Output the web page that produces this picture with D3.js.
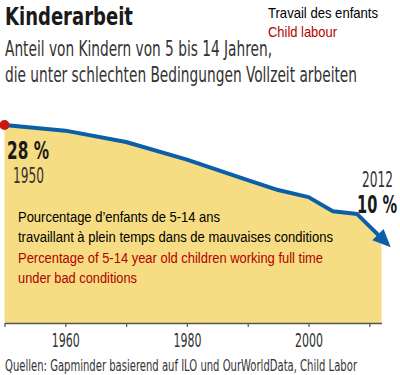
<!DOCTYPE html>
<html><head><meta charset="utf-8">
<script src="https://cdn.jsdelivr.net/npm/d3@7"></script>
<style>
html,body{margin:0;padding:0;background:#fff;}
svg{display:block;}
</style></head>
<body>
<script>
const years = [1950,1960,1970,1980,1990,1995,2000,2004,2008,2012];
const values = [28,27.2,25.6,23.1,20.2,18.8,17.8,15.8,15.4,12];
const tickYears = [1950,1960,1970,1980,1990,2000,2010];
const tickLabels = {1960:"1960",1980:"1980",2000:"2000"};

const W=400,H=375;
const din = "'Liberation Sans Narrow','DejaVu Sans Condensed',sans-serif";
const arial = "'Liberation Sans',Arial,sans-serif";
const svg = d3.select("body").append("svg").attr("width",W).attr("height",H);

const x = d3.scaleLinear().domain([1950,2012]).range([4.5,381.5]);
const y = d3.scaleLinear().domain([0,28]).range([323,125]);
const data = years.map((d,i)=>({year:d,v:values[i]}));

svg.append("path").datum(data)
  .attr("d", d3.area().x(d=>x(d.year)).y0(y(0)).y1(d=>y(d.v)))
  .attr("fill","#f6dc82");

const ax = svg.append("g").attr("transform",`translate(0,${y(0)})`)
  .call(d3.axisBottom(x).tickValues(tickYears).tickSize(4).tickSizeOuter(0).tickPadding(6)
    .tickFormat(d=>tickLabels[d]||""));
ax.select(".domain").attr("stroke","#555").attr("stroke-width",1.5);
ax.selectAll(".tick line").attr("stroke","#555").attr("stroke-width",1.2);
ax.selectAll(".tick text").attr("font-family",din).attr("font-size",20).attr("fill","#333")
  .attr("y",24).attr("dy",0).attr("textLength",28).attr("lengthAdjust","spacingAndGlyphs");

svg.append("path").datum(data)
  .attr("d", d3.line().x(d=>x(d.year)).y(d=>y(d.v)))
  .attr("fill","none").attr("stroke","#0b5ea8").attr("stroke-width",4).attr("stroke-linejoin","round");

// arrowhead
const n=data.length;
const px=x(data[n-1].year), py=y(data[n-1].v);
const qx=x(data[n-2].year), qy=y(data[n-2].v);
let dx=px-qx, dy=py-qy; const L=Math.hypot(dx,dy); dx/=L; dy/=L;
const tip=[px+dx*13, py+dy*13], base=[px-dx*5, py-dy*5];
const hw=8;
svg.append("path").attr("d",`M${tip[0]},${tip[1]}L${base[0]-dy*hw},${base[1]+dx*hw}L${base[0]+dy*hw},${base[1]-dx*hw}Z`)
  .attr("fill","#0b5ea8");

svg.append("circle").attr("cx",x(years[0])).attr("cy",y(values[0])).attr("r",5).attr("fill","#cc1515");

function t(txt,xx,yy,o){
  const e=svg.append("text").attr("x",xx).attr("y",yy).text(txt)
    .attr("font-family",o.f||din).attr("font-size",o.s).attr("fill",o.c||"#222")
    .attr("font-weight",o.w||"normal");
  if(o.L) e.attr("textLength",o.L).attr("lengthAdjust","spacingAndGlyphs");
  return e;
}
t("Kinderarbeit",5,25,{s:24,w:"bold",L:128,c:"#1a1a1a"});
t("Anteil von Kindern von 5 bis 14 Jahren,",5,56,{s:21.5,L:267,c:"#333"});
t("die unter schlechten Bedingungen Vollzeit arbeiten",5,82,{s:21.5,L:352,c:"#333"});
t("Travail des enfants",268,18,{f:arial,s:14.5,L:110,c:"#000"});
t("Child labour",268,37,{f:arial,s:14.5,L:69,c:"#b00000"});
t("28 %",7,159,{s:25,w:"bold",L:42,c:"#1a1a1a"});
t("1950",13,183,{s:21,L:31,c:"#333"});
t("2012",362,187,{s:21,L:31,c:"#333"});
t("10 %",357,213,{s:25,w:"bold",L:40,c:"#1a1a1a"});
t("Pourcentage d\u2019enfants de 5-14 ans",18,222,{f:arial,s:14,L:202,c:"#000"});
t("travaillant \u00e0 plein temps dans de mauvaises conditions",18,242,{f:arial,s:14,L:315,c:"#000"});
t("Percentage of 5-14 year old children working full time",18,263,{f:arial,s:14,L:305,c:"#b00000"});
t("under bad conditions",18,283,{f:arial,s:14,L:119,c:"#b00000"});
t("Quellen: Gapminder basierend auf ILO und OurWorldData, Child Labor",5,371,{s:15.5,L:352,c:"#333"});
</script>
</body></html>
